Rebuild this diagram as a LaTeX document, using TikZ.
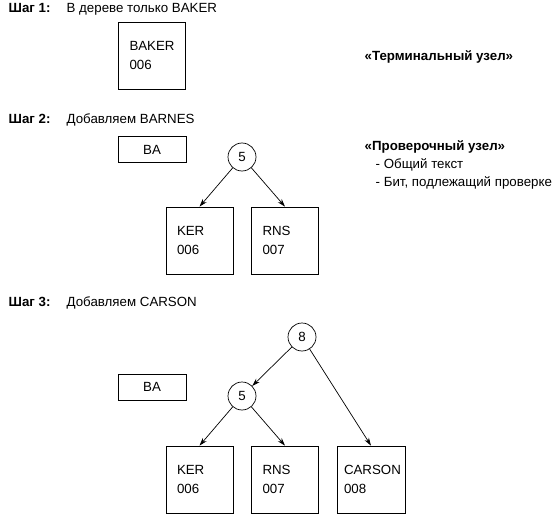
\documentclass[tikz,border=0pt]{standalone}
\usepackage{fontspec}
\setmainfont{Liberation Sans}
\usetikzlibrary{arrows.meta}

\begin{document}
\begin{tikzpicture}[x=1pt,y=-1pt,>={Stealth[length=8pt,width=5pt]},line width=0.7pt,
	every node/.style={font=\fontsize{13.3}{18.3}\selectfont},
	]

	\tikzset{leafbox/.style={draw,minimum height=67pt,text width=45pt,inner xsep=11pt,align=left}}
	\tikzset{prefixbox/.style={draw,minimum width=68pt,minimum height=26pt}}
	\tikzset{checknode/.style={circle,draw,inner sep=0pt,minimum size=28pt}}
	\tikzset{step label/.style={anchor=base west,font=\bfseries\fontsize{13.3}{18.3}\selectfont}}
	\tikzset{caption/.style={anchor=base west}}

	\useasboundingbox (0,0) rectangle (560,519);

	% step 1
	\node[step label] (s1) at (5,13) {Шаг 1:};
	\node[caption] (t1) at (63,13) {В дереве только BAKER};
	\node[leafbox] (baker) at (152,55.5) {BAKER\\006};
	\node[step label] (term) at (361,61) {«Терминальный узел»};

	% step 2
	\node[step label] (s2) at (5,123) {Шаг 2:};
	\node[caption] (t2) at (63,123) {Добавляем BARNES};
	\node[prefixbox] (ba2) at (152,149.5) {BA};
	\node[checknode] (c5a) at (242,157) {5};
	\node[leafbox] (ker2) at (199.5,240.5) {KER\\006};
	\node[leafbox] (rns2) at (285,240.5) {RNS\\007};
	\draw[->] (c5a) -- (ker2.north);
	\draw[->] (c5a) -- (rns2.north);

	\node[step label] (chk) at (361,150) {«Проверочный узел»};
	\node[caption] (chk1) at (372,168) {- Общий текст};
	\node[caption] (chk2) at (372,186) {- Бит, подлежащий проверке};

	% step 3
	\node[step label] (s3) at (5,306) {Шаг 3:};
	\node[caption] (t3) at (63,306) {Добавляем CARSON};
	\node[prefixbox] (ba3) at (152,387) {BA};
	\node[checknode] (c8) at (302,337) {8};
	\node[checknode] (c5b) at (242,396) {5};
	\node[leafbox] (ker3) at (199.5,479.5) {KER\\006};
	\node[leafbox] (rns3) at (285,479.5) {RNS\\007};
	\node[leafbox,inner xsep=7pt,text width=54pt] (carson) at (371,479.5) {CARSON\\008};
	\draw[->] (c8) -- (c5b);
	\draw[->] (c8) -- (carson.north);
	\draw[->] (c5b) -- (ker3.north);
	\draw[->] (c5b) -- (rns3.north);

\end{tikzpicture}
\end{document}
